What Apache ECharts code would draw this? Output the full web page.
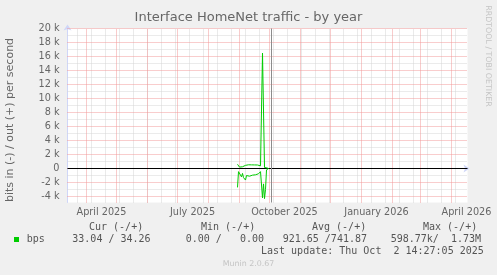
<!DOCTYPE html>
<html><head><meta charset="utf-8">
<script src="https://cdn.jsdelivr.net/npm/echarts@6/dist/echarts.min.js"></script>
<style>html,body{margin:0;padding:0;background:#f0f0f0}#c{width:497px;height:275px}</style>
</head><body><div id="c"></div>
<script>
// ---------- data ----------
const DAY = 86400000;
const startTs = Date.UTC(2025, 2, 13);
const endTs = startTs + 400 * DAY;
const nowTs = Date.UTC(2025, 9, 2, 14, 27, 5);
const dataStart = Date.UTC(2025, 7, 30);          // first daily sample
// out (+) and in (-) bits per second, one value per day
const outBps = [600,350,200,100,150,250,300,350,450,500,
                520,530,520,510,520,530,520,510,520,510,500,510,
                500,380,350,16500,16400,150,100,80,60,0];
const inBps  = [2700,450,550,700,1200,700,1300,1500,1650,1000,
                1150,1050,1100,1000,1050,950,1000,950,900,850,800,750,
                600,450,400,4200,2200,4300,3000,200,50,0];
const yTicks = [-4000,-2000,0,2000,4000,6000,8000,10000,12000,14000,16000,18000,20000];
const yMinor = [-3000,-1000,1000,3000,5000,7000,9000,11000,13000,15000,17000,19000];
const xLabelTimes = [Date.UTC(2025,3,16), Date.UTC(2025,6,16), Date.UTC(2025,9,16), Date.UTC(2026,0,16), Date.UTC(2026,3,16)];
const monthNames = ['January','February','March','April','May','June','July','August','September','October','November','December'];
const legendHeads = ['Cur (-/+)','Min (-/+)','Avg (-/+)','Max (-/+)'];
const legendVals = ['33.04 / 34.26','0.00 /   0.00','921.65 /741.87','598.77k/  1.73M'];
const lastUpdate = 'Last update: Thu Oct  2 14:27:05 2025';

// ---------- derived ----------
const monthStarts = [];
for (let y = 2025, m = 3; ; m++) { const t = Date.UTC(y, m, 1); if (t > endTs) break; monthStarts.push(t); }
const minorWeeks = [];
for (let t = Date.UTC(2025, 2, 23); t <= endTs; t += 14 * DAY) minorWeeks.push(t);
const outData = outBps.map((v, i) => [dataStart + i * DAY, v]);
const inData = inBps.map((v, i) => [dataStart + i * DAY, -v]);

const yMin = -34000 / 7;
const GRAY = '#d6d6d6', RED = '#f29a9a';
const ml = [];
minorWeeks.forEach(t => ml.push({ xAxis: t, lineStyle: { color: GRAY, type: [1, 1], width: 1 } }));
yMinor.forEach(v => ml.push({ yAxis: v, lineStyle: { color: GRAY, type: [1, 1], width: 1 } }));
monthStarts.forEach(t => ml.push({ xAxis: t, lineStyle: { color: RED, type: [1, 1], width: 1 } }));
yTicks.forEach(v => ml.push({ yAxis: v, lineStyle: { color: RED, type: [1, 1], width: 1 } }));
ml.push({ yAxis: 0, lineStyle: { color: '#000', type: 'solid', width: 1 } });
ml.push({ xAxis: nowTs, lineStyle: { color: '#8c8c8c', type: 'solid', width: 1 } });

const chart = echarts.init(document.getElementById('c'), null, { renderer: 'canvas' });
const FONT = 'DejaVu Sans';
const graphic = [
  { type: 'text', left: 'center', top: 11, style: { text: 'Interface HomeNet traffic - by year', font: '13px "DejaVu Sans"', fill: '#666' } },
  { type: 'text', x: 5, y: 120, rotation: Math.PI / 2, style: { text: 'bits in (-) / out (+) per second', font: '11px "DejaVu Sans"', fill: '#666', align: 'center', verticalAlign: 'top' } },
  { type: 'text', x: 492, y: 56, rotation: -Math.PI / 2, style: { text: 'RRDTOOL / TOBI OETIKER', font: '7.9px "DejaVu Sans"', fill: '#c4c4c4', align: 'center', verticalAlign: 'top' } },
  { type: 'rect', shape: { x: 14, y: 237, width: 5, height: 5 }, style: { fill: '#00cc00' } },
  { type: 'text', x: 26.7, y: 239.5, style: { text: 'bps', font: '10px "DejaVu Sans Mono"', fill: '#555', verticalAlign: 'middle' } },
  { type: 'text', x: 261, y: 251.7, style: { text: lastUpdate, font: '10px "DejaVu Sans Mono"', fill: '#555', verticalAlign: 'middle' } },
  { type: 'text', x: 248.5, y: 264, style: { text: 'Munin 2.0.67', font: '7.9px "DejaVu Sans"', fill: '#c4c4c4', align: 'center', verticalAlign: 'middle' } }
];
const headX = [89, 201, 312, 423];
const valX = [72.3, 185.7, 282.7, 390.7];
legendHeads.forEach((h, i) => graphic.push({ type: 'text', x: headX[i], y: 227.7, style: { text: h, font: '10px "DejaVu Sans Mono"', fill: '#555', verticalAlign: 'middle' } }));
legendVals.forEach((h, i) => graphic.push({ type: 'text', x: valX[i], y: 239.5, style: { text: h, font: '10px "DejaVu Sans Mono"', fill: '#555', verticalAlign: 'middle' } }));

chart.setOption({
  animation: false,
  backgroundColor: '#f0f0f0',
  grid: { left: 67.5, top: 28.5, width: 400, height: 174, backgroundColor: '#ffffff', show: true, borderWidth: 0 },
  xAxis: {
    type: 'value', min: startTs, max: endTs,
    axisLine: { show: true, lineStyle: { color: '#CFD6F8', width: 1 }, symbol: ['none', 'arrow'], symbolSize: [6, 6], symbolOffset: [0, 2] },
    axisTick: { show: false },
    splitLine: { show: false },
    axisLabel: {
      customValues: xLabelTimes, margin: 5, color: '#666', fontFamily: FONT, fontSize: 9.7,
      formatter: v => { const d = new Date(v); return monthNames[d.getUTCMonth()] + ' ' + d.getUTCFullYear(); }
    }
  },
  yAxis: {
    type: 'value', min: yMin, max: 20000,
    axisLine: { show: true, lineStyle: { color: '#CFD6F8', width: 1 }, symbol: ['none', 'arrow'], symbolSize: [6, 6], symbolOffset: [0, 4] },
    axisTick: { show: false },
    splitLine: { show: false },
    axisLabel: {
      customValues: yTicks, margin: 8, color: '#666', fontFamily: FONT, fontSize: 9.7,
      formatter: v => v === 0 ? '0' : (v / 1000) + ' k'
    }
  },
  graphic: graphic,
  series: [
    { type: 'line', name: 'grid', data: [], silent: true, markLine: { silent: true, symbol: 'none', label: { show: false }, animation: false, data: ml } },
    { type: 'line', name: 'bps', data: outData, z: 10, showSymbol: false, symbol: 'none', lineStyle: { color: '#00cc00', width: 1 }, silent: true },
    { type: 'line', name: 'bps in', data: inData, z: 10, showSymbol: false, symbol: 'none', lineStyle: { color: '#00cc00', width: 1 }, silent: true }
  ]
});
</script></body></html>
